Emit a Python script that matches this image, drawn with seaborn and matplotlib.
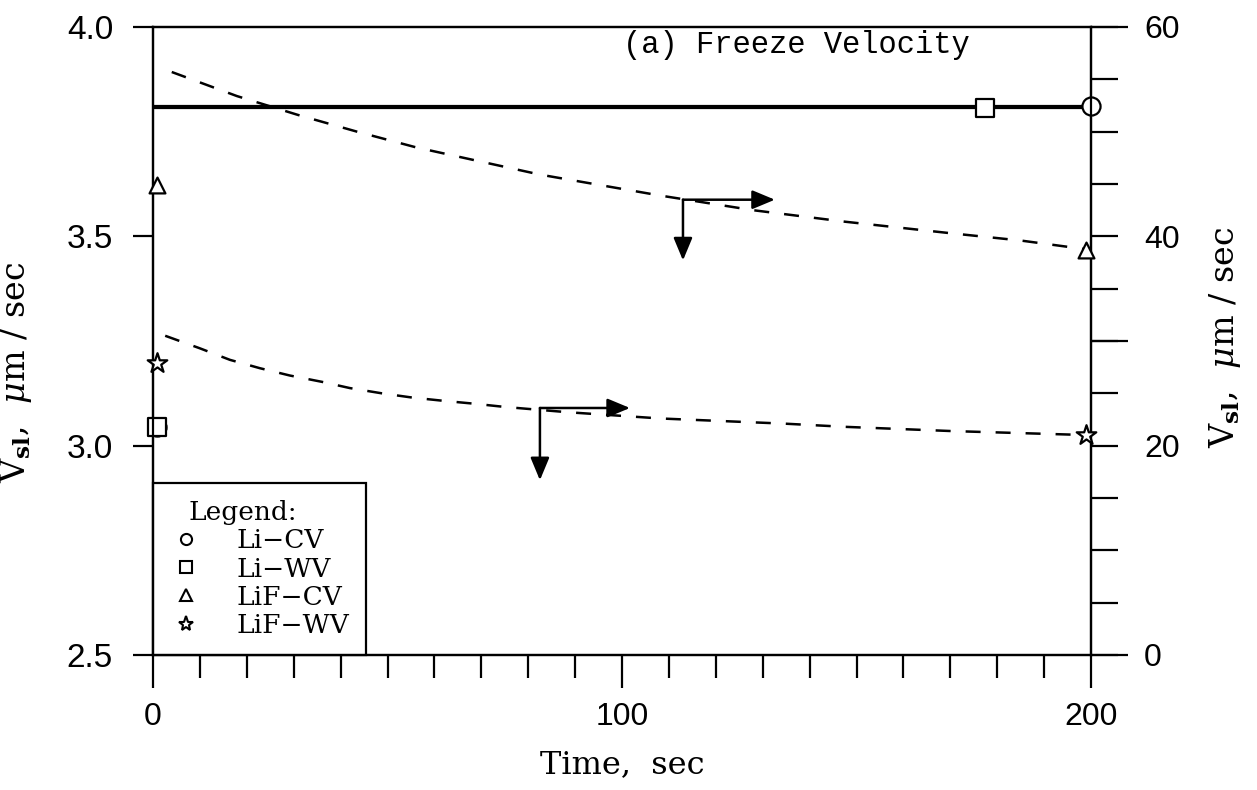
import numpy as np
import pandas as pd
import matplotlib
matplotlib.use("Agg")
import matplotlib.pyplot as plt
from matplotlib.lines import Line2D
from matplotlib.ticker import MultipleLocator, FixedLocator
import seaborn as sns

# ---------------- data ----------------
# Li lines (left axis, um/sec)
t_li = [0, 200]
v_li_cv = [3.812, 3.812]
v_li_wv = [3.806, 3.806]

# LiF curves (right axis, um/sec)
t_lif_cv = [4, 17.9, 30.9, 43.5, 56.1, 69.3, 82.5, 95.3, 108.1, 127.9, 147.5, 170, 185, 200]
v_lif_cv = [55.7, 53.4, 51.6, 50.0, 48.5, 47.2, 45.9, 44.9, 43.9, 42.5, 41.4, 40.3, 39.6, 38.7]

t_lif_wv = [2.6, 10, 16.4, 22.8, 29.2, 36, 42, 48.8, 55.2, 61.6, 68.7, 75, 88.3, 108.1, 134.8, 147.5, 170, 200]
v_lif_wv = [30.5, 29.3, 28.2, 27.4, 26.7, 26.1, 25.5, 25.0, 24.6, 24.3, 24.0, 23.7, 23.2, 22.6, 22.1, 21.8, 21.4, 21.0]

# marker points
li_cv_mk_t = [0.8, 200]
li_cv_mk_v = [3.045, 3.811]
li_wv_mk_t = [0.8, 177.5]
li_wv_mk_v = [3.045, 3.806]
lif_cv_mk_t = [0.8, 199]
lif_cv_mk_v = [44.9, 38.7]
lif_wv_mk_t = [0.8, 199]
lif_wv_mk_v = [27.9, 21.0]

legend_labels = ["Li\u2212CV", "Li\u2212WV", "LiF\u2212CV", "LiF\u2212WV"]
legend_markers = ["o", "s", "^", "*"]

# arrows (right-axis units): corner, right tip, down tip
arrow_top = dict(corner=(113, 43.5), right=(132.6, 43.5), down=(113, 37.7))
arrow_low = dict(corner=(82.5, 23.6), right=(101.7, 23.6), down=(82.5, 16.7))

x_ticks = [0, 100, 200]
left_ticks = [2.5, 3.0, 3.5, 4.0]
right_ticks = [0, 20, 40, 60]
right_long_ticks = [0, 30, 60]

# ---------------- style ----------------
sns.set_theme(style="ticks")
plt.rcParams["font.family"] = ["Liberation Sans", "DejaVu Sans"]
plt.rcParams["mathtext.fontset"] = "dejavuserif"
plt.rcParams["text.color"] = "black"
plt.rcParams["axes.labelcolor"] = "black"
plt.rcParams["xtick.color"] = "black"
plt.rcParams["ytick.color"] = "black"

W, H = 1257, 790
fig = plt.figure(figsize=(W / 100, H / 100), dpi=100)
L, B, R, T = 153, 655, 1091, 27
ax = fig.add_axes([L / W, 1 - B / H, (R - L) / W, (B - T) / H])
ax2 = ax.twinx()
ax3 = ax.twinx()

lw_sp = 1.6
for a in (ax, ax2, ax3):
    for s in a.spines.values():
        s.set_linewidth(lw_sp)
        s.set_color("black")
ax3.patch.set_visible(False)
for s in ax3.spines.values():
    s.set_visible(False)

# Li solid lines
sns.lineplot(x=t_li, y=v_li_cv, ax=ax, color="black", linewidth=1.6)
sns.lineplot(x=t_li, y=v_li_wv, ax=ax, color="black", linewidth=1.6)

# LiF dashed lines
sns.lineplot(x=t_lif_cv, y=v_lif_cv, ax=ax2, color="black", linewidth=1.8,
             linestyle=(0, (6.0, 6.0)))
sns.lineplot(x=t_lif_wv, y=v_lif_wv, ax=ax2, color="black", linewidth=1.8,
             linestyle=(0, (6.0, 6.0)))

mk_kw = dict(facecolor="white", edgecolor="black", linewidth=1.6, clip_on=False, zorder=6)
sns.scatterplot(x=li_cv_mk_t, y=li_cv_mk_v, ax=ax, marker="o", s=170, **mk_kw)
sns.scatterplot(x=li_wv_mk_t, y=li_wv_mk_v, ax=ax, marker="s", s=170, **mk_kw)
sns.scatterplot(x=lif_cv_mk_t, y=lif_cv_mk_v, ax=ax2, marker="^", s=130, **mk_kw)
sns.scatterplot(x=lif_wv_mk_t, y=lif_wv_mk_v, ax=ax2, marker="*", s=220, **mk_kw)

# arrows
akw = dict(arrowstyle="-|>,head_length=0.6,head_width=0.25", color="black", lw=1.8,
           mutation_scale=23, shrinkA=0, shrinkB=0)
for arr in (arrow_top, arrow_low):
    ax2.annotate("", xy=arr["right"], xytext=arr["corner"], arrowprops=akw)
    ax2.annotate("", xy=arr["down"], xytext=arr["corner"], arrowprops=akw)

# limits
ax.set_xlim(0, 200)
ax.set_ylim(2.5, 4.0)
ax2.set_ylim(0, 60)
ax3.set_ylim(0, 60)

px = 72 / 100  # points per pixel
# x axis ticks
ax.xaxis.set_major_locator(FixedLocator(x_ticks))
ax.xaxis.set_minor_locator(MultipleLocator(10))
ax.tick_params(axis="x", which="major", direction="out", length=33 * px, width=1.6,
               pad=14 * px, labelsize=23, colors="black")
ax.tick_params(axis="x", which="minor", direction="out", length=23 * px, width=1.6)
ax.xaxis.set_ticks_position("bottom")

# left axis
ax.yaxis.set_major_locator(FixedLocator(left_ticks))
ax.set_yticklabels([f"{v:.1f}" for v in left_ticks])
ax.tick_params(axis="y", which="major", direction="out", length=20 * px, width=1.6,
               pad=20 * px, labelsize=24, colors="black")
ax.yaxis.set_ticks_position("left")

# right axis
ax2.yaxis.set_major_locator(FixedLocator(right_ticks))
ax2.yaxis.set_minor_locator(MultipleLocator(5))
ax2.tick_params(axis="y", which="major", direction="out", length=27 * px, width=1.6,
                pad=26 * px, labelsize=23, colors="black")
ax2.tick_params(axis="y", which="minor", direction="out", length=27 * px, width=1.6)
ax3.yaxis.set_major_locator(FixedLocator(right_long_ticks))
ax3.tick_params(axis="y", which="major", direction="out", length=37 * px, width=1.6,
                labelright=False, right=True)
ax3.set_yticklabels([])

# labels
ylab = r"V$_{\mathbf{sl}}$,  $\mu$m / sec"
ax.set_xlabel("Time,  sec", family="DejaVu Serif", fontsize=23, labelpad=12,
              color="black")
ax.set_ylabel(ylab, fontsize=24, family="DejaVu Serif", color="black")
ax.yaxis.set_label_coords(-0.127, 0.45)
ax2.set_ylabel(ylab, fontsize=24, family="DejaVu Serif", rotation=90, color="black")
ax2.yaxis.set_label_coords(1.124, 0.506)

ax.text(0.501, 0.971, "(a) Freeze Velocity", transform=ax.transAxes,
        ha="left", va="center", fontsize=22, family="Liberation Mono",
        color="black")

# legend
handles = [Line2D([], [], marker=m, linestyle="none", markerfacecolor="white",
                  markeredgecolor="black", markeredgewidth=1.5,
                  markersize=(8 if m != "*" else 11)) for m in legend_markers]
leg = ax.legend(handles, legend_labels, title="Legend:", loc="lower left",
                bbox_to_anchor=(0, 0), borderaxespad=0, frameon=True,
                fancybox=False, edgecolor="black", framealpha=1,
                prop={"family": "DejaVu Serif", "size": 19},
                title_fontproperties={"family": "DejaVu Serif", "size": 19},
                labelspacing=0.12, handletextpad=1.3, borderpad=0.65,
                handlelength=1.2, alignment="left", labelcolor="black")
leg.get_frame().set_linewidth(1.6)
leg.set_zorder(10)
leg.get_title().set_x(18)
leg.get_title().set_color("black")

fig.savefig("out.png", dpi=100)
